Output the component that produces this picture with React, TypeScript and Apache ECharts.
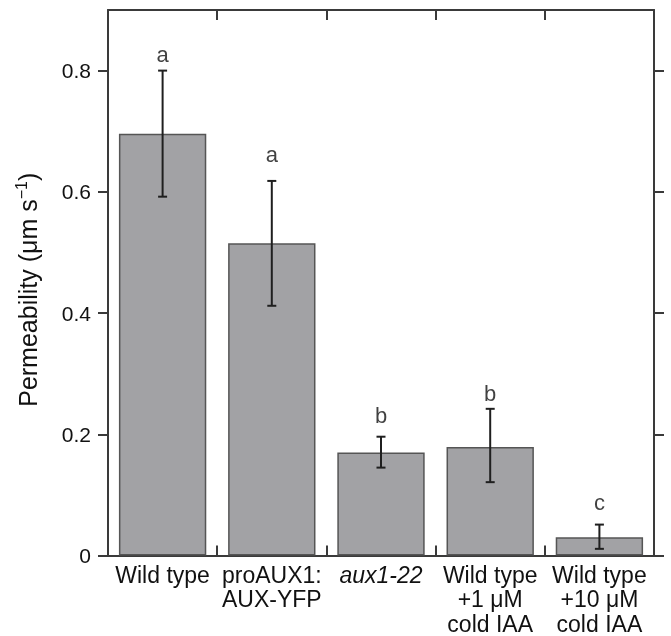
import React, { useEffect, useRef } from "react";
import * as echarts from "echarts";

const categories = [
  "Wild type",
  "proAUX1:\nAUX-YFP",
  "aux1-22",
  "Wild type\n+1 μM\ncold IAA",
  "Wild type\n+10 μM\ncold IAA",
];
const means = [0.696, 0.515, 0.17, 0.179, 0.03];
const errLow = [0.592, 0.412, 0.145, 0.121, 0.011];
const errHigh = [0.8, 0.618, 0.196, 0.242, 0.051];
const letters = ["a", "a", "b", "b", "c"];
const letterY = [0.826, 0.661, 0.231, 0.267, 0.088];
const yTicks = [0, 0.2, 0.4, 0.6, 0.8];

const FONT = "Liberation Sans, Arial, Helvetica, sans-serif";
const AXIS_COLOR = "#3a3a3a";
const TEXT = "#111";

export default function App() {
  const ref = useRef<HTMLDivElement>(null);
  useEffect(() => {
    if (!ref.current) return;
    const chart = echarts.init(ref.current, null, { renderer: "svg" });
    const catAxisBase = {
      type: "category",
      data: categories,
      boundaryGap: true,
      axisLine: { show: true, onZero: false, lineStyle: { color: AXIS_COLOR, width: 2 } },
      axisTick: { show: true, inside: true, length: 10, alignWithLabel: false, lineStyle: { color: AXIS_COLOR, width: 2 } },
      splitLine: { show: false },
    };
    const valAxisBase = {
      type: "value",
      min: 0,
      max: 0.9,
      interval: 0.2,
      splitLine: { show: false },
      axisLine: { show: true, onZero: false, lineStyle: { color: AXIS_COLOR, width: 2 } },
      axisTick: { show: true, inside: false, length: 10, customValues: yTicks, lineStyle: { color: AXIS_COLOR, width: 2 } },
    };
    chart.setOption({
      animation: false,
      grid: { left: 108, right: 17, top: 10, bottom: 79, containLabel: false },
      xAxis: [
        {
          ...catAxisBase,
          position: "bottom",
          axisLabel: {
            show: true,
            interval: 0,
            margin: 7,
            color: TEXT,
            fontFamily: FONT,
            fontSize: 23,
            lineHeight: 24.5,
            formatter: (v: string) => (v === "aux1-22" ? "{i|aux1-22}" : v),
            rich: {
              i: { fontStyle: "italic", fontFamily: FONT, fontSize: 23, lineHeight: 24.5, color: TEXT },
            },
          },
        },
        {
          ...catAxisBase,
          position: "top",
          axisLabel: { show: false },
        },
      ],
      yAxis: [
        {
          ...valAxisBase,
          position: "left",
          name: "{t|Permeability (μm s}{s|−1}{t|)}",
          nameLocation: "middle",
          nameGap: 66,
          nameTextStyle: {
            padding: [0, 14, 0, 0],
            rich: {
              t: { fontFamily: FONT, fontSize: 25, color: TEXT, lineHeight: 29 },
              s: { fontFamily: FONT, fontSize: 16, color: TEXT, lineHeight: 29, verticalAlign: "top", padding: [0, 0, 12, 0] },
            },
          },
          axisLabel: {
            show: true,
            margin: 17,
            color: TEXT,
            fontFamily: FONT,
            fontSize: 21,
            customValues: yTicks,
            formatter: (v: number) => (v === 0 ? "0" : v.toFixed(1)),
          },
        },
        {
          ...valAxisBase,
          position: "right",
          axisLabel: { show: false },
        },
      ],
      series: [
        {
          type: "bar",
          data: means,
          barWidth: "80%",
          itemStyle: { color: "#a2a2a5", borderColor: "#555", borderWidth: 1.5 },
          z: 1,
        },
        {
          type: "custom",
          data: categories.map((_, i) => [i, errLow[i], errHigh[i]]),
          renderItem: (params: any, api: any) => {
            const x = api.coord([api.value(0), 0])[0];
            const lo = api.coord([api.value(0), api.value(1)])[1];
            const hi = api.coord([api.value(0), api.value(2)])[1];
            const cap = 4.5;
            const style = { stroke: "#1f1f1f", lineWidth: 2 };
            return {
              type: "group",
              children: [
                { type: "line", shape: { x1: x, y1: lo, x2: x, y2: hi }, style },
                { type: "line", shape: { x1: x - cap, y1: hi, x2: x + cap, y2: hi }, style },
                { type: "line", shape: { x1: x - cap, y1: lo, x2: x + cap, y2: lo }, style },
              ],
            };
          },
          z: 3,
        },
        {
          type: "scatter",
          data: categories.map((_, i) => [i, letterY[i]]),
          symbolSize: 0,
          label: {
            show: true,
            position: "inside",
            formatter: (p: any) => letters[p.dataIndex],
            fontFamily: FONT,
            fontSize: 22,
            color: TEXT,
          },
          z: 4,
        },
      ],
    });
    return () => chart.dispose();
  }, []);
  return <div ref={ref} style={{ position: "fixed", left: 0, top: 0, width: 671, height: 636 }} />;
}
